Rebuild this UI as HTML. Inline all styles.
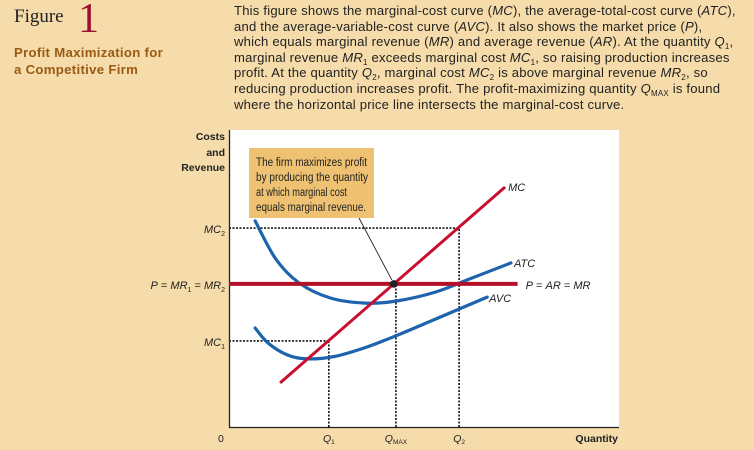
<!DOCTYPE html>
<html><head><meta charset="utf-8">
<style>
html,body{margin:0;padding:0}
body{width:754px;height:450px;background:#f5dcaa;position:relative;overflow:hidden;font-family:"Liberation Sans",sans-serif}
.abs{position:absolute}
#fig{left:14px;top:6px;font-family:"Liberation Serif",serif;font-size:19px;color:#222}
#fignum{left:78px;top:-5px;font-family:"Liberation Serif",serif;font-size:42px;color:#9a1030}
#title{left:14px;top:44px;font-size:13.2px;font-weight:bold;color:#9a5a14;line-height:17px;letter-spacing:0.3px}
#cap{left:234px;top:3px;width:520px;font-size:13.1px;line-height:15.6px;color:#222;letter-spacing:0.2px;white-space:nowrap}
sub{font-size:8px;vertical-align:-3px;line-height:0}
</style></head><body>
<div class="abs" id="fig">Figure</div>
<div class="abs" id="fignum">1</div>
<div class="abs" id="title">Profit Maximization for<br>a Competitive Firm</div>
<div class="abs" id="cap">This figure shows the marginal-cost curve (<i>MC</i>), the average-total-cost curve (<i>ATC</i>),<br>and the average-variable-cost curve (<i>AVC</i>). It also shows the market price (<i>P</i>),<br>which equals marginal revenue (<i>MR</i>) and average revenue (<i>AR</i>). At the quantity <i>Q</i><sub>1</sub>,<br>marginal revenue <i>MR</i><sub>1</sub> exceeds marginal cost <i>MC</i><sub>1</sub>, so raising production increases<br>profit. At the quantity <i>Q</i><sub>2</sub>, marginal cost <i>MC</i><sub>2</sub> is above marginal revenue <i>MR</i><sub>2</sub>, so<br>reducing production increases profit. The profit-maximizing quantity <i>Q</i><sub>MAX</sub> is found<br>where the horizontal price line intersects the marginal-cost curve.</div>

<svg id="chart" class="abs" style="left:0;top:0" width="754" height="450"></svg>

<script>
const mcLine = [[1.31,1.47],[7.08,8.0]];
const atcPoints = [[0.67,6.87],[1.2,5.6],[1.8,4.8],[2.6,4.3],[3.5,4.13],[4.3,4.2],[5.3,4.5],[6.2,4.95],[7.23,5.47]];
const avcPoints = [[0.67,3.3],[1.0,2.8],[1.5,2.4],[2.0,2.27],[2.7,2.35],[3.5,2.65],[4.3,3.05],[5.3,3.6],[6.62,4.33]];
const priceLevel = 4.77;
const priceEnd = 7.4;
const mc2Level = 6.63;
const mc1Level = 2.87;
const qTicks = [2.56,4.28,5.9];

const X = q => 229 + q*39;
const Y = v => 427 - v*30;
const NS = "http://www.w3.org/2000/svg";
const svg = document.getElementById('chart');
function mk(tag, attrs, parent){const e=document.createElementNS(NS,tag);for(const k in attrs)e.setAttribute(k,attrs[k]);(parent||svg).appendChild(e);return e;}
function smooth(pts){
  const p=pts.map(a=>[X(a[0]),Y(a[1])]);
  let d=`M${p[0][0]},${p[0][1]}`;
  for(let i=0;i<p.length-1;i++){
    const p0=p[Math.max(0,i-1)],p1=p[i],p2=p[i+1],p3=p[Math.min(p.length-1,i+2)];
    d+=` C${p1[0]+(p2[0]-p0[0])/6},${p1[1]+(p2[1]-p0[1])/6} ${p2[0]-(p3[0]-p1[0])/6},${p2[1]-(p3[1]-p1[1])/6} ${p2[0]},${p2[1]}`;
  }
  return d;
}
function txt(x,y,s,attrs,name){const t=mk('text',Object.assign({x:x,y:y,'font-family':'"Liberation Sans",sans-serif','font-size':11,fill:'#222'},attrs||{}));t.innerHTML=s;return t;}

const plot = mk('rect',{x:229,y:130,width:390,height:297,fill:'#fff'});



const pY=Y(priceLevel);
const mcSlope=(mcLine[1][1]-mcLine[0][1])/(mcLine[1][0]-mcLine[0][0]);
const mcAt = v => mcLine[0][0]+(v-mcLine[0][1])/mcSlope;
const dash={stroke:'#111','stroke-width':1.6,'stroke-dasharray':'2,1.5',fill:'none'};
const g1=mk('path',Object.assign({d:`M229,${Y(mc2Level)} H${X(mcAt(mc2Level))}`},dash));


const g2=mk('path',Object.assign({d:`M229,${Y(mc1Level)} H${X(mcAt(mc1Level))}`},dash));


const qTop=[mc1Level,priceLevel,mc2Level];
qTicks.forEach((q,i)=>{
  const g=mk('path',Object.assign({d:`M${X(q)},427 V${Y(qTop[i])}`},dash));
  
  
});

const ax=mk('path',{d:'M229.5,130 V427.5 H619',stroke:'#222','stroke-width':1.3,fill:'none'});



const atc=mk('path',{d:smooth(atcPoints),stroke:'#1d63ad','stroke-width':3.2,fill:'none','stroke-linecap':'round'});


const avc=mk('path',{d:smooth(avcPoints),stroke:'#1d63ad','stroke-width':3.2,fill:'none','stroke-linecap':'round'});


const price=mk('line',{x1:229,y1:pY,x2:X(priceEnd),y2:pY,stroke:'#b5102a','stroke-width':4});


const mc=mk('line',{x1:X(mcLine[0][0]),y1:Y(mcLine[0][1]),x2:X(mcLine[1][0]),y2:Y(mcLine[1][1]),stroke:'#c8102e','stroke-width':3});


const dot=mk('circle',{cx:X(mcAt(priceLevel)),cy:pY,r:3.8,fill:'#222'});



const ptr=mk('line',{x1:359,y1:218,x2:X(mcAt(priceLevel))-2,y2:pY-4,stroke:'#222','stroke-width':0.9});


const box=mk('rect',{x:249,y:148,width:125,height:70,fill:'#eec272'});


const calloutLines=['The firm maximizes profit','by producing the quantity','at which marginal cost','equals marginal revenue.'];
const calloutW=[111,112,91,110];
calloutLines.forEach((s,i)=>{
  txt(256,166+i*15,s,{'font-size':11.5,'textLength':calloutW[i],'lengthAdjust':'spacingAndGlyphs'},'callout-line-'+(i+1));
});

txt(225,140,'Costs',{'font-weight':'bold','text-anchor':'end','font-size':10.5},'y-axis-title-1');
txt(225,156,'and',{'font-weight':'bold','text-anchor':'end','font-size':10.5},'y-axis-title-2');
txt(225,171,'Revenue',{'font-weight':'bold','text-anchor':'end','font-size':10.5},'y-axis-title-3');
txt(225,Y(mc2Level)+5,'<tspan font-style="italic">MC</tspan><tspan font-size="7" dy="3">2</tspan>',{'text-anchor':'end'},'mc2-label');
txt(225,pY+5,'<tspan font-style="italic">P</tspan> = <tspan font-style="italic">MR</tspan><tspan font-size="7" dy="3">1</tspan><tspan dy="-3"> = </tspan><tspan font-style="italic">MR</tspan><tspan font-size="7" dy="3">2</tspan>',{'text-anchor':'end'},'price-label-left');
txt(225,Y(mc1Level)+5,'<tspan font-style="italic">MC</tspan><tspan font-size="7" dy="3">1</tspan>',{'text-anchor':'end'},'mc1-label');
txt(X(mcLine[1][0])+3,Y(mcLine[1][1])+4,'MC',{'font-style':'italic'},'mc-curve-label');
txt(X(7.23)+3,Y(5.47)+4,'ATC',{'font-style':'italic'},'atc-curve-label');
txt(X(6.62)+2,Y(4.33)+5,'AVC',{'font-style':'italic'},'avc-curve-label');
txt(X(priceEnd)+8,pY+5,'<tspan font-style="italic">P</tspan> = <tspan font-style="italic">AR</tspan> = <tspan font-style="italic">MR</tspan>',{},'price-label-right');
txt(218,442,'0',{'font-size':10.5},'origin-label');
const qLab=['<tspan font-style="italic">Q</tspan><tspan font-size="6.5" dy="2">1</tspan>','<tspan font-style="italic">Q</tspan><tspan font-size="6.5" dy="2">MAX</tspan>','<tspan font-style="italic">Q</tspan><tspan font-size="6.5" dy="2">2</tspan>'];
qTicks.forEach((q,i)=>txt(X(q),442,qLab[i],{'text-anchor':'middle','font-size':10.5},'x-tick-label-'+(i+1)));
txt(618,442,'Quantity',{'font-weight':'bold','text-anchor':'end','font-size':10.5},'x-axis-title');
</script>
</body></html>
